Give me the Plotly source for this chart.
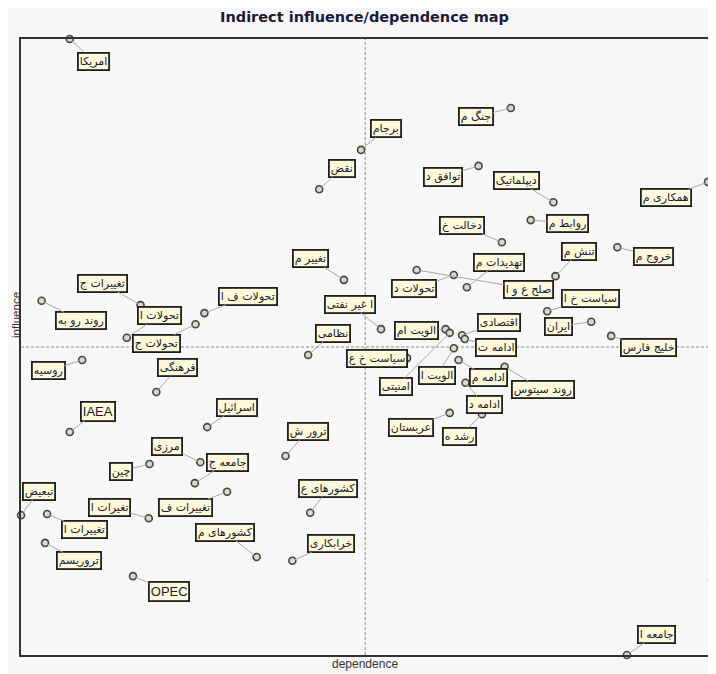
import plotly.graph_objects as go

# ---- data (dependence = x, influence = y) ----
labels = [
    "امریکا", "نقض", "برجام", "جنگ م", "توافق د", "دیپلماتیک", "همکاری م", "روابط م",
    "دخالت خ", "تهدیدات م", "تحولات د", "صلح ع و ا", "تنش م", "خروج م", "سیاست خ ا",
    "ایران", "خلیج فارس", "اقتصادی", "ادامه ت", "الویت ام", "ا غیر نفتی", "نظامی",
    "سیاست خ ع", "امنیتی", "الویت ا", "ادامه م", "ادامه د", "روند سیتوس", "رشد ه",
    "عربستان", "تحولات ا", "تغییرات ج", "روند رو به", "تحولات ف ا", "تحولات ج",
    "تغییر م", "روسیه", "فرهنگی", "IAEA", "اسرائیل", "ترور ش", "مرزی", "جامعه ج",
    "چین", "تبعیض", "تغیرات ا", "تغییرات ف", "کشورهای ع", "تغییرات ا", "تروریسم",
    "OPEC", "کشورهای م", "خرابکاری", "جامعه ا",
]
dependence = [
    7.1, 43.4, 49.5, 71.3, 66.6, 77.5, 100.0, 74.2,
    70.0, 64.9, 63.0, 57.6, 77.8, 86.8, 76.6,
    83.0, 85.9, 64.2, 64.6, 61.8, 52.4, 41.8,
    56.2, 62.4, 63.0, 63.7, 64.7, 70.4, 67.1,
    62.4, 15.4, 17.4, 3.0, 26.7, 25.4,
    47.0, 8.9, 19.7, 7.1, 27.1, 38.5, 26.1, 25.3,
    18.7, 0.0, 18.6, 30.0, 42.1, 3.8, 3.5,
    16.3, 34.3, 39.5, 88.2,
]
influence = [
    100.0, 75.6, 82.0, 88.8, 79.4, 73.5, 76.8, 70.6,
    67.0, 59.7, 61.7, 62.5, 61.5, 66.2, 55.8,
    54.1, 51.8, 51.9, 51.3, 52.9, 52.9, 48.7,
    48.2, 52.3, 49.8, 47.9, 44.2, 46.8, 39.1,
    39.3, 51.5, 56.8, 57.5, 55.5, 53.7,
    60.9, 47.9, 42.7, 36.2, 37.0, 32.3, 31.3, 27.9,
    31.0, 22.7, 22.2, 26.5, 23.1, 22.9, 18.2,
    12.8, 15.9, 15.3, 0.0,
]
# mean lines (crosshair)
dependence_mean = 50.1
influence_mean = 50.0

# ---- label placement offsets (pixels, style only) ----
label_dx = [
    24, 23, 25, -35, -36, -37, -42, 37,
    -40, 32, -40, 112, 24, 36, 43,
    -33, 37, 37, 31, -29, -31, 25,
    -30, -54, -17, 30, 19, 38, -22,
    -39, 33, -38, 39, 44, -39,
    -33, -34, 21, 28, 30, 22, -33, 33,
    -28, 18, -39, -42, 18, 37, 34,
    36, -32, 39, 30,
]
label_dy = [
    22, -21, -21, 9, 11, -22, 16, 3,
    -17, -25, 14, 19, -25, 9, -13,
    5, 12, -13, 9, 1, -25, -22,
    0, 54, 27, 18, 22, 23, 22,
    15, -22, -22, 20, -17, 19,
    -21, 11, -24, -21, -20, -25, -16, -21,
    7, -24, -11, 16, -24, 16, 18,
    15, -25, -17, -21,
]

BG = "#f7f7f7"
W, H = 708, 666          # page body adds an 8px margin
PL, PR, PT, PB = 13, 6, 31, 19
plot_w = W - PL - PR

fig = go.Figure()
fig.add_trace(go.Scatter(
    x=dependence, y=influence, mode="markers", cliponaxis=False,
    marker=dict(symbol="circle", size=7, color="#d8d8c8",
                line=dict(color="#444444", width=1.6)),
    hoverinfo="text", text=labels, showlegend=False,
))

annotations = []
for lab, xv, yv, dx, dy in zip(labels, dependence, influence, label_dx, label_dy):
    latin = lab.isascii()
    annotations.append(dict(
        x=xv, y=yv, xref="x", yref="y", text=lab,
        showarrow=True, ax=dx, ay=dy, axref="pixel", ayref="pixel",
        arrowhead=0, arrowwidth=1, arrowcolor="#a8a8a8", standoff=3,
        font=dict(family="Arial, Liberation Sans" if latin else "Tahoma, DejaVu Sans, sans-serif",
                  size=13 if latin else 11, color="#1a1a33"),
        bgcolor="#fbf9d9", bordercolor="#1e1e1e", borderwidth=1.8, borderpad=1,
    ))

annotations += [
    dict(text="dependence", xref="paper", yref="paper", x=0.5, y=-0.0145,
         showarrow=False, yanchor="middle",
         font=dict(family="Arial, Liberation Sans", size=12, color="#333333")),
    dict(text="influence", xref="paper", yref="paper", x=-PL / plot_w, y=0.552,
         showarrow=False, textangle=-90, xanchor="left",
         font=dict(family="Arial, Liberation Sans", size=11.5, color="#333333")),
    dict(text="© LIPSOR-EPITA-MICMAC", xref="paper", yref="paper",
         x=1 + 2.5 / plot_w, y=0.115,
         showarrow=False, textangle=-90, xanchor="center",
         font=dict(family="Arial, Liberation Sans", size=6, color="#b8742f")),
]

fig.update_layout(
    width=W, height=H,
    margin=dict(l=PL, r=PR, t=PT, b=PB),
    paper_bgcolor=BG, plot_bgcolor=BG,
    title=dict(text="<b>Indirect influence/dependence map</b>", x=0.5, xref="paper",
               y=1 - 9 / H, yanchor="middle",
               font=dict(family="DejaVu Sans, Tahoma, sans-serif", size=14.5, color="#1b1b3a")),
    annotations=annotations,
    shapes=[
        dict(type="line", xref="x", yref="paper", x0=dependence_mean, x1=dependence_mean,
             y0=0, y1=1, line=dict(color="#8c8c8c", width=1, dash="3px,2px"), layer="below"),
        dict(type="line", xref="paper", yref="y", x0=0, x1=1, y0=influence_mean,
             y1=influence_mean, line=dict(color="#8c8c8c", width=1, dash="3px,2px"), layer="below"),
    ],
    xaxis=dict(range=[0, 100], showgrid=False, zeroline=False, showticklabels=False,
               ticks="", showline=True, mirror=True, linecolor="#333333", linewidth=1.5),
    yaxis=dict(range=[0, 100], showgrid=False, zeroline=False, showticklabels=False,
               ticks="", showline=True, mirror=True, linecolor="#333333", linewidth=1.5),
)

fig.write_html("out.html")
